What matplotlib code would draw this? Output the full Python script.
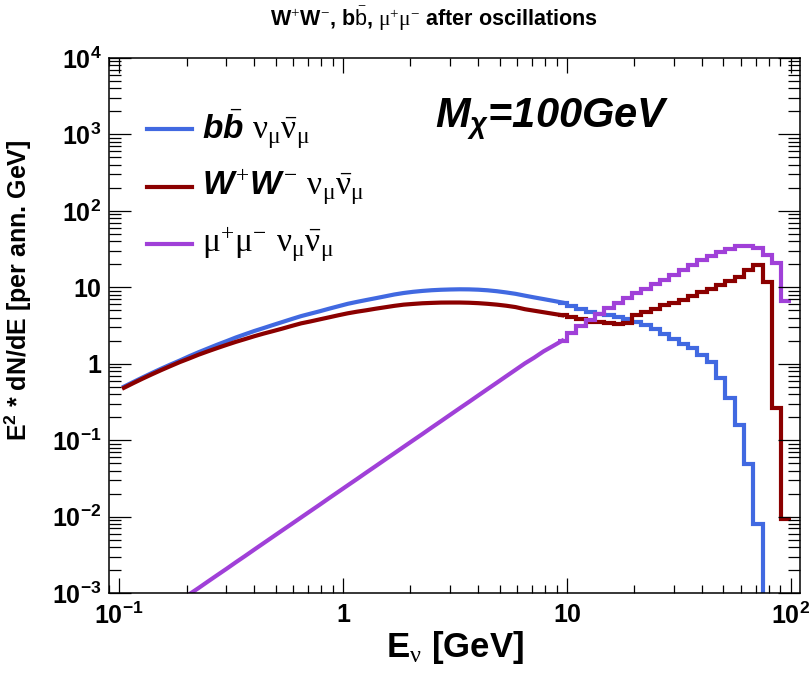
import matplotlib
matplotlib.use("Agg")
import matplotlib.pyplot as plt
from matplotlib.lines import Line2D
import numpy as np

plt.rcParams['font.family'] = ['Liberation Sans', 'DejaVu Sans']
plt.rcParams['mathtext.fontset'] = 'custom'
plt.rcParams['mathtext.rm'] = 'Liberation Serif'
plt.rcParams['mathtext.it'] = 'Liberation Sans:italic:bold'
plt.rcParams['mathtext.bf'] = 'Liberation Sans:bold'
plt.rcParams['mathtext.sf'] = 'Liberation Sans'

# histogram binning: 24 log bins per decade, 0.1 - 100 GeV
edges = np.logspace(-1, 2, 73)

# E^2 dN/dE per bin
bb = [0.50, 0.575, 0.66, 0.755, 0.86, 0.975, 1.10, 1.25, 1.41, 1.58, 1.77, 1.97,
      2.20, 2.43, 2.68, 2.93, 3.21, 3.51, 3.84, 4.19, 4.51, 4.85, 5.24, 5.64,
      6.07, 6.44, 6.81, 7.19, 7.60, 8.04, 8.41, 8.71, 8.95, 9.14, 9.27, 9.35,
      9.40, 9.38, 9.29, 9.12, 8.87, 8.55, 8.20, 7.76, 7.36, 7.00, 6.65, 6.31,
      5.75, 5.25, 4.79, 4.52, 4.27, 4.07, 3.85, 3.47, 3.16, 2.82, 2.45, 2.09,
      1.82, 1.58, 1.29, 1.05, 0.65, 0.36, 0.16, 0.048, 0.008, 0, 0, 0]
ww = [0.483, 0.556, 0.637, 0.726, 0.824, 0.931, 1.05, 1.17, 1.31, 1.45, 1.60, 1.76,
      1.93, 2.10, 2.29, 2.48, 2.67, 2.88, 3.12, 3.37, 3.57, 3.80, 4.04, 4.30,
      4.56, 4.79, 5.00, 5.24, 5.47, 5.71, 5.92, 6.05, 6.17, 6.24, 6.30, 6.31,
      6.31, 6.27, 6.19, 6.07, 5.92, 5.73, 5.50, 5.16, 4.93, 4.71, 4.50, 4.30,
      4.04, 3.79, 3.56, 3.47, 3.39, 3.35, 3.39, 4.37, 4.79, 5.25, 5.89, 6.31,
      6.76, 7.76, 8.71, 9.55, 10.7, 12.0, 13.5, 16.6, 19.5, 11.7, 0.26, 0.0094]
mumu = [0, 0, 0, 0, 0, 0, 0, 9.6e-4, 1.16e-3, 1.41e-3, 1.71e-3, 2.07e-3,
        2.52e-3, 3.05e-3, 3.71e-3, 4.50e-3, 5.46e-3, 6.62e-3, 8.02e-3, 9.73e-3,
        0.0118, 0.0143, 0.0174, 0.0211, 0.0256, 0.0310, 0.0377, 0.0457, 0.0555,
        0.0673, 0.0817, 0.0991, 0.120, 0.146, 0.177, 0.215, 0.261, 0.316, 0.384,
        0.466, 0.565, 0.686, 0.832, 1.01, 1.20, 1.45, 1.70, 2.00, 2.51, 3.09,
        3.72, 4.47, 5.37, 6.31, 7.24, 8.32, 9.55, 11.0, 12.6, 14.5, 17.0, 19.5,
        22.4, 25.7, 28.8, 31.6, 34.3, 34.7, 32.6, 26.3, 20.6, 6.7]

labels = [r"$\mathit{b\bar{b}}$ $\mathrm{\nu_{\mu}\bar{\nu}_{\mu}}$",
          r"$\mathit{W^{+}W^{-}}$ $\mathrm{\nu_{\mu}\bar{\nu}_{\mu}}$",
          r"$\mathrm{\mu^{+}\mu^{-}\ \nu_{\mu}\bar{\nu}_{\mu}}$"]
colors = ['#4169e1', '#8b0000', '#a040d8']

xticks = [0.1, 1, 10, 100]
xticklabels = [r"$\mathbf{10^{-1}}$", "1", "10", r"$\mathbf{10^{2}}$"]
yticks = [1e-3, 1e-2, 1e-1, 1, 10, 1e2, 1e3, 1e4]
yticklabels = [r"$\mathbf{10^{-3}}$", r"$\mathbf{10^{-2}}$", r"$\mathbf{10^{-1}}$",
               "1", "10", r"$\mathbf{10^{2}}$", r"$\mathbf{10^{3}}$", r"$\mathbf{10^{4}}$"]

fig = plt.figure(figsize=(8.11, 6.73), dpi=100)
ax = fig.add_axes([0.1344, 0.1189, 0.852, 0.795])

centers = np.sqrt(edges[:-1] * edges[1:])
nsmooth = 48  # below ~10 GeV the fine binning looks like a smooth curve
for vals, col in zip([bb, ww, mumu], colors):
    v = np.array(vals, dtype=float)
    vs = np.where(v > 0, v, np.nan)
    ax.plot(centers[:nsmooth], vs[:nsmooth], color=col, lw=3, solid_joinstyle='round')
    vh = np.where(v > 0, v, 1e-9)
    ax.stairs(vh[nsmooth - 1:], edges[nsmooth - 1:], baseline=None, color=col, lw=3)

ax.set_xscale('log')
ax.set_yscale('log')
ax.set_xlim(0.09, 110)
ax.set_ylim(1e-3, 1e4)

ax.set_xticks(xticks, labels=xticklabels, fontsize=18, fontweight='bold')
ax.set_yticks(yticks, labels=yticklabels, fontsize=18, fontweight='bold')
ax.xaxis.set_minor_locator(matplotlib.ticker.LogLocator(base=10, subs=np.arange(2, 10), numticks=20))
ax.yaxis.set_minor_locator(matplotlib.ticker.LogLocator(base=10, subs=np.arange(2, 10), numticks=20))
ax.xaxis.set_minor_formatter(matplotlib.ticker.NullFormatter())
ax.yaxis.set_minor_formatter(matplotlib.ticker.NullFormatter())
ax.tick_params(which='both', direction='in', top=True, right=True, width=0.9)
ax.tick_params(axis='y', which='major', length=16, pad=5.5)
ax.tick_params(axis='y', which='minor', length=8.5)
ax.tick_params(axis='x', which='major', length=11, pad=7)
ax.tick_params(axis='x', which='minor', length=5.5)
for s in ax.spines.values():
    s.set_linewidth(1.1)

ax.set_xlabel(r"E$_{\mathrm{\nu}}$ [GeV]", fontsize=25, fontweight='bold', labelpad=0)
ax.set_ylabel(r"E$^{\mathbf{2}}$ * dN/dE [per ann. GeV]", fontsize=18, fontweight='bold')
ax.yaxis.set_label_coords(-0.108, 0.565)

ax.text(0.472, 0.871, r"$\mathit{M}_{\chi}$=100GeV", transform=ax.transAxes,
        fontsize=30, fontweight='bold', fontstyle='italic', ha='left', va='baseline')

fig.text(0.535, 0.972, r"W$^{+}$W$^{-}$, b$\bar{\mathsf{b}}$, $\mathrm{\mu^{+}\mu^{-}}$ after oscillations",
         fontsize=15.5, fontweight='bold', ha='center', va='center')

# legend drawn as key segment + label, no frame
key_y = [0.867, 0.759, 0.652]
for lab, col, yk in zip(labels, colors, key_y):
    ax.add_line(Line2D([0.055, 0.12], [yk, yk], transform=ax.transAxes, color=col, lw=3))
    ax.text(0.135, yk, lab, transform=ax.transAxes, fontsize=24, ha='left', va='center')

fig.savefig("out.png", dpi=100)
